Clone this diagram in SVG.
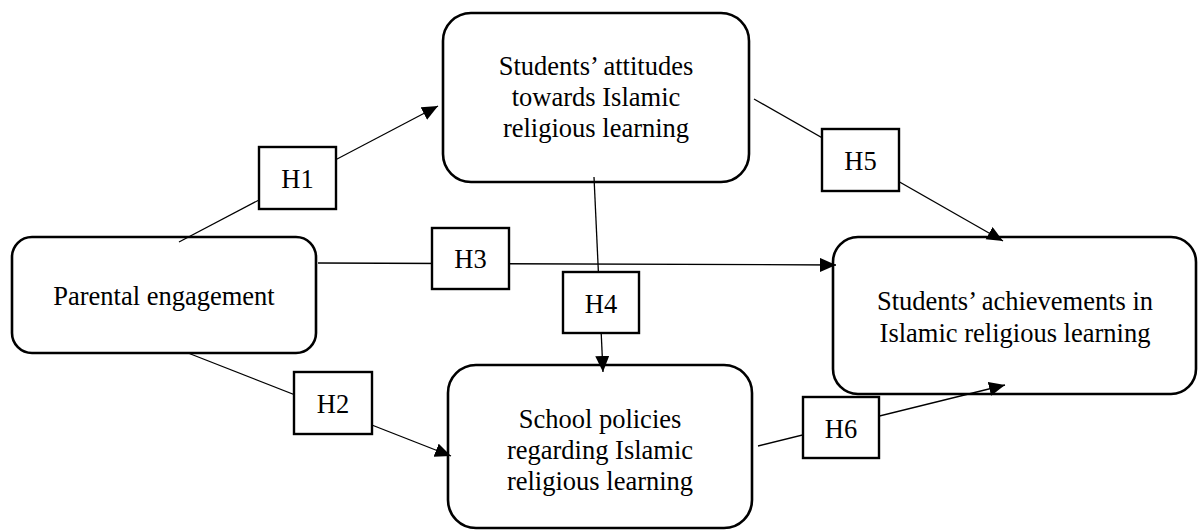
<svg xmlns="http://www.w3.org/2000/svg" width="1198" height="530" viewBox="0 0 1198 530">
<style>
.node{fill:#fff;stroke:#000;stroke-width:2.6}
.hbox{fill:#fff;stroke:#000;stroke-width:2.4}
.conn{fill:none;stroke:#000;stroke-width:1.3}
.t{font-family:"Liberation Serif","Times New Roman",serif;font-size:26.5px;fill:#000;text-anchor:middle}
</style>
<defs>
<marker id="arr" markerUnits="userSpaceOnUse" markerWidth="18" markerHeight="16" refX="16" refY="7" orient="auto">
<path d="M0,0 L16,7 L0,14 z" fill="#000"/>
</marker>
</defs>
<rect width="1198" height="530" fill="#fff"/>
<g id="parental">
<rect class="node" x="12" y="237" width="304" height="116" rx="20"/>
<text class="t" x="164" y="305">Parental engagement</text>
</g>
<g id="attitudes">
<rect class="node" x="443" y="13" width="306" height="169" rx="28"/>
<text class="t" x="596" y="75">Students’ attitudes</text>
<text class="t" x="596" y="106">towards Islamic</text>
<text class="t" x="596" y="137">religious learning</text>
</g>
<g id="school">
<rect class="node" x="448" y="365" width="304" height="163" rx="28"/>
<text class="t" x="600" y="428">School policies</text>
<text class="t" x="600" y="459">regarding Islamic</text>
<text class="t" x="600" y="490">religious learning</text>
</g>
<g id="achievements">
<rect class="node" x="833" y="237" width="363" height="157" rx="25"/>
<text class="t" x="1015" y="310">Students’ achievements in</text>
<text class="t" x="1015" y="342">Islamic religious learning</text>
</g>
<g id="connectors">
<line class="conn" x1="179" y1="242" x2="438" y2="106" marker-end="url(#arr)"/>
<line class="conn" x1="188" y1="353" x2="451" y2="456" marker-end="url(#arr)"/>
<line class="conn" x1="318" y1="263" x2="836" y2="265" marker-end="url(#arr)"/>
<line class="conn" x1="594" y1="177" x2="603" y2="372" marker-end="url(#arr)"/>
<line class="conn" x1="754" y1="99" x2="1003" y2="241" marker-end="url(#arr)"/>
<line class="conn" x1="758" y1="446" x2="1005" y2="385" marker-end="url(#arr)"/>
</g>
<g id="h1">
<rect class="hbox" x="259" y="147" width="77" height="62"/>
<text class="t" x="297.5" y="188">H1</text>
</g>
<g id="h2">
<rect class="hbox" x="294" y="372" width="78" height="62"/>
<text class="t" x="333" y="413">H2</text>
</g>
<g id="h3">
<rect class="hbox" x="432" y="228" width="77" height="61"/>
<text class="t" x="470.5" y="268">H3</text>
</g>
<g id="h4">
<rect class="hbox" x="563" y="272" width="76" height="61"/>
<text class="t" x="601" y="313">H4</text>
</g>
<g id="h5">
<rect class="hbox" x="822" y="129" width="77" height="62"/>
<text class="t" x="860.5" y="170">H5</text>
</g>
<g id="h6">
<rect class="hbox" x="803" y="397" width="76" height="61"/>
<text class="t" x="841" y="438">H6</text>
</g>
</svg>
